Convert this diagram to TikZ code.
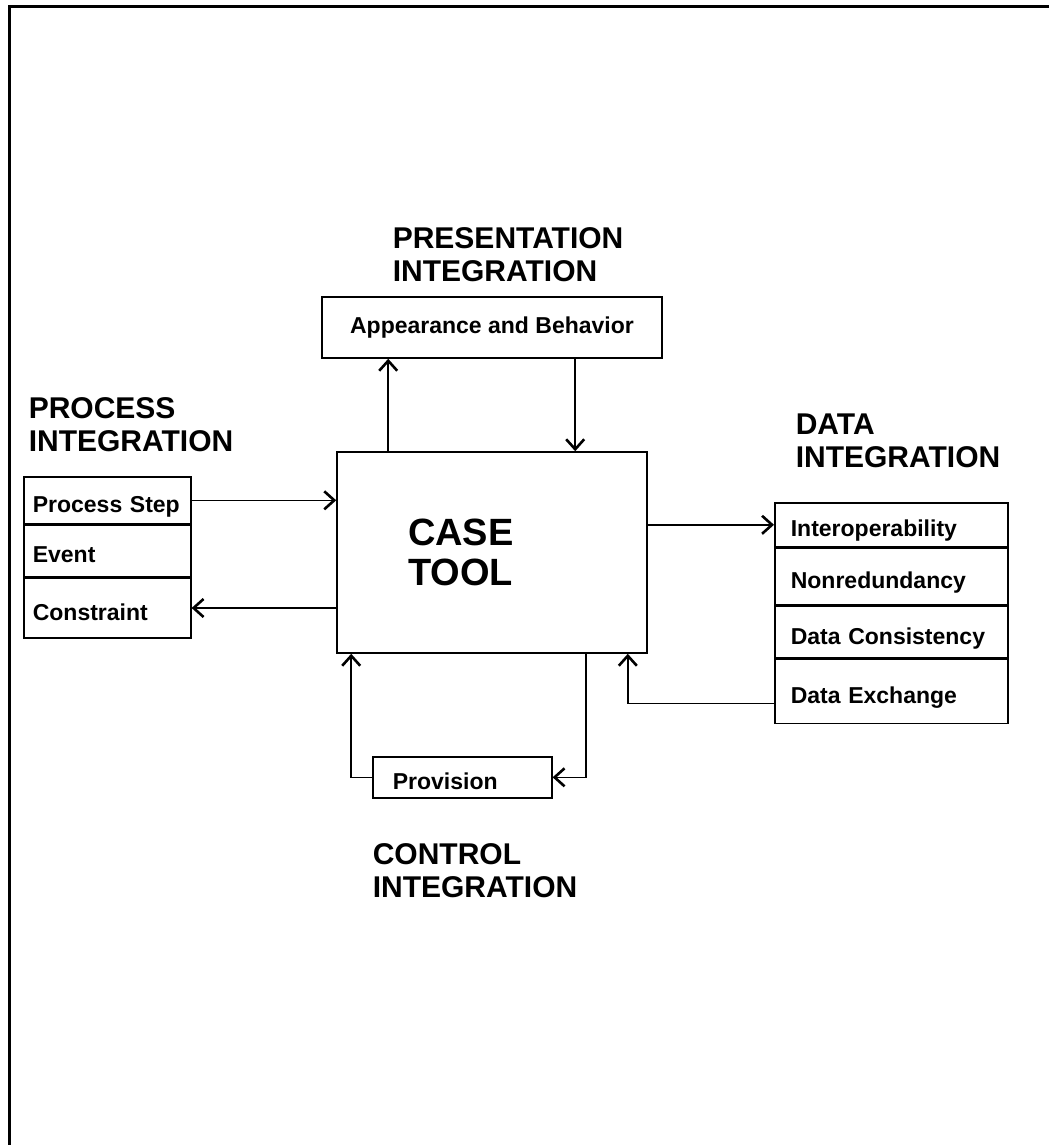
\documentclass[tikz,border=0pt]{standalone}
\usepackage{fontspec}
\setmainfont{Liberation Sans}
\usetikzlibrary{arrows.meta,positioning}

\begin{document}
\begin{tikzpicture}[x=1pt, y=-1pt, line width=1.6pt,
  box node/.style={draw,rectangle,inner sep=0pt,font=\fontsize{23}{26}\selectfont\bfseries},
  row node/.style={box node,align=left,text height=24pt,text depth=0pt,minimum height=#1},
  prow node/.style={row node=#1,text width=149pt,inner xsep=9pt},
  drow node/.style={row node=#1,text width=201pt,inner xsep=16pt},
  head node/.style={anchor=north west,inner sep=0pt,align=left,font=\fontsize{30}{33}\selectfont\bfseries},
  arr/.style={-{Straight Barb[length=10pt,width=18pt,line width=2.6pt]}}]
\useasboundingbox (0,0) rectangle (1049,1145);
\draw[line width=3pt] (1049,7) -| (9,1145);

% headings
\node[head node] (pres) at (392,227) {PRESENTATION\\INTEGRATION};
\node[head node] (proc) at (28,397) {PROCESS\\INTEGRATION};
\node[head node] (data) at (795,413) {DATA\\INTEGRATION};
\node[head node] (ctrl) at (372,843) {CONTROL\\INTEGRATION};

% boxes
\node[draw,minimum width=310pt,minimum height=201pt,text width=168pt,inner xsep=71pt,align=left,font=\fontsize{38}{40}\selectfont\bfseries] (case) at (492,552.5) {CASE\\TOOL};
\node[box node,minimum width=340pt,minimum height=61pt] (app) at (492,327.5) {Appearance and Behavior};
\node[row node=41pt,text width=139pt,inner xsep=20pt,anchor=north west] (prov) at (372,756) {Provision};

\node[prow node=47pt,anchor=north west] (pstep) at (23,476) {Process Step};
\node[prow node=51pt,below=0pt of pstep] (event) {Event};
\node[prow node=60pt,below=0pt of event] (constr) {Constraint};

\node[drow node=44pt,anchor=north west] (interop) at (774,502) {Interoperability};
\node[drow node=56pt,below=0pt of interop] (nonred) {Nonredundancy};
\node[drow node=52pt,below=0pt of nonred] (dcons) {Data Consistency};
\node[drow node=64pt,below=0pt of dcons] (dexch) {Data Exchange};

% connectors
\coordinate (c1) at ([xshift=52pt]case.north west);
\coordinate (c2) at ([xshift=239pt]case.north west);
\coordinate (c3) at ([xshift=15pt]case.south west);
\coordinate (c4) at ([xshift=-62pt]case.south east);
\coordinate (c5) at ([xshift=-20pt]case.south east);
\coordinate (c6) at ([yshift=-12pt]dexch.west);
\draw[arr] (c1) -- (c1 |- app.south);
\draw[arr] (c2 |- app.south) -- (c2);
\draw[arr] (pstep.east) -- (pstep.east -| case.west);
\draw[arr] (constr.east -| case.west) -- (constr.east);
\draw[arr] (interop.west -| case.east) -- (interop.west);
\draw[arr] (c6) -| (c5);
\draw[arr] (c4) |- (prov.east);
\draw[arr] (prov.west) -| (c3);
\end{tikzpicture}
\end{document}
